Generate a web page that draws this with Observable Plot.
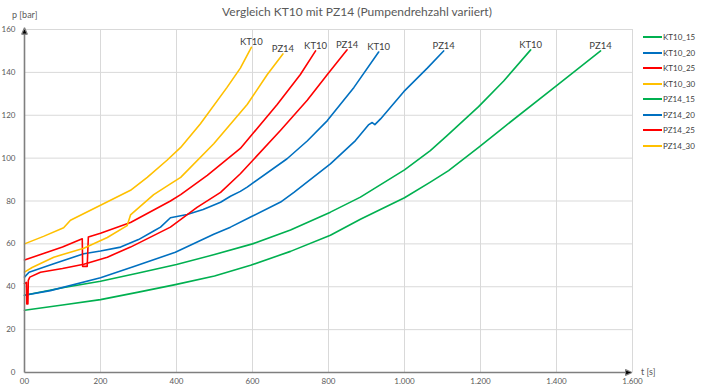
<!DOCTYPE html>
<html><head><meta charset="utf-8">
<script src="https://cdn.jsdelivr.net/npm/d3@7"></script>
<script src="https://cdn.jsdelivr.net/npm/@observablehq/plot@0.6"></script>
<style>
body{margin:0;background:#fff;}
#wrap{position:relative;width:714px;height:391px;font-family:Lato,"Open Sans",sans-serif;overflow:hidden;}
#wrap svg{position:absolute;left:0;top:0;}
#title{position:absolute;left:0;width:714px;top:4px;text-align:center;font-size:12px;color:#595959;white-space:nowrap;}
.lab{position:absolute;font-size:9px;color:#595959;white-space:nowrap;}
#legend{position:absolute;left:643px;top:29.5px;font-size:8px;color:#404040;}
.item{display:flex;align-items:center;height:15.5px;}
.sw{width:19px;height:2px;margin-right:1px;}
</style></head><body>
<div id="wrap">
<div id="title">Vergleich KT10 mit PZ14 (Pumpendrehzahl variiert)</div>
<div class="lab" style="left:12px;top:9px">p [bar]</div>
<div class="lab" style="left:641px;top:366px">t [s]</div>
<div id="legend"></div>
</div>
<script>
const seriesNames = ["KT10_15","KT10_20","KT10_25","KT10_30","PZ14_15","PZ14_20","PZ14_25","PZ14_30"];
const xTicks = [0,200,400,600,800,1000,1200,1400,1600];
const xTickLabels = ["00","200","400","600","800","1.000","1.200","1.400","1.600"];
const yTicks = [0,20,40,60,80,100,120,140,160];

const KT10_15 = [[0,36],[100,39.5],[200,42.6],[300,46.4],[400,50.4],[500,55],[600,60],[700,66.5],[805,74.8],[884,81.8],[1000,94.5],[1068,103.5],[1112,110.5],[1195,124],[1261,136],[1332,150.5]];
const KT10_20 = [[0,44.5],[12,46.8],[77,50.7],[156,55.4],[200,56.7],[253,58.5],[300,62],[340,66],[358,67.8],[384,72.2],[428,73.7],[470,76],[516,79.4],[542,82.2],[568,84.5],[586,86.5],[691,99.7],[744,108],[797,117.5],[867,133],[932,149.5]];
const KT10_25 = [[0,52.5],[50,55.5],[100,58.5],[152,62.4],[153,49.5],[165,49.5],[168,63.2],[200,65],[279,70],[384,80],[411,83],[481,92],[568,104.5],[665,125],[726,139],[766,150]];
const KT10_30 = [[0,60],[50,63.5],[103,67.5],[121,71],[200,78],[279,85],[323,91],[375,99],[411,105],[463,116],[533,133],[568,142],[597,151.7]];
const PZ14_15 = [[0,29],[100,31.5],[200,34],[300,37.5],[397,41],[500,45],[595,50],[700,56.5],[805,64],[884,71.5],[1000,81.5],[1068,88.8],[1116,94.2],[1195,105],[1261,114.4],[1402,134],[1516,150]];
const PZ14_20 = [[0,36],[68,38.2],[200,44.2],[288,49.4],[397,56.1],[498,64.5],[542,67.8],[595,72.5],[674,79.5],[709,84],[805,97.3],[871,108.2],[905,115.5],[915,116.6],[922,115.6],[937,118.3],[998,131],[1060,142],[1103,150]];
const PZ14_25 = [[0,41.5],[5,42],[6,32],[9,32],[10,43],[14,44.5],[42,46.8],[100,48.5],[156,50.5],[218,53.8],[279,58.5],[384,67.8],[454,77],[516,84],[568,92.7],[674,113],[744,127],[797,139],[849,150.5]];
const PZ14_30 = [[0,46.8],[20,49],[77,53.8],[156,58],[218,63],[270,68.5],[279,73.5],[340,83],[384,88],[411,91],[498,106.7],[586,125],[639,139],[680,148.6]];

const seriesData = [KT10_15,KT10_20,KT10_25,KT10_30,PZ14_15,PZ14_20,PZ14_25,PZ14_30];
const palette = ["#00B050","#0070C0","#FF0000","#FFC000","#00B050","#0070C0","#FF0000","#FFC000"];

const rows = [];
seriesData.forEach((arr,i)=>arr.forEach(([t,p])=>rows.push({series:seriesNames[i],t,p})));
const ends = seriesData.map((arr,i)=>({series:seriesNames[i],label:seriesNames[i].split("_")[0],t:arr[arr.length-1][0],p:arr[arr.length-1][1]}));

function filledArrow(){
  const ns="http://www.w3.org/2000/svg";
  const m=document.createElementNS(ns,"marker");
  m.setAttribute("viewBox","-5 -5 10 10");
  m.setAttribute("markerWidth","8");m.setAttribute("markerHeight","8");
  m.setAttribute("markerUnits","userSpaceOnUse");
  m.setAttribute("orient","auto");
  m.setAttribute("refX","0");m.setAttribute("refY","0");
  const p=document.createElementNS(ns,"path");
  p.setAttribute("d","M-4,-3.5L4,0L-4,3.5Z");p.setAttribute("fill","#000");
  m.appendChild(p);return m;
}

const chart = Plot.plot({
  width:714,height:391,
  marginLeft:24,marginRight:82,marginTop:29,marginBottom:19,
  x:{domain:[0,1600],label:null},
  y:{domain:[0,160],label:null},
  color:{domain:seriesNames,range:palette},
  style:{fontFamily:"Lato, 'Open Sans', sans-serif",fontSize:"8px",color:"#595959",background:"transparent",overflow:"visible"},
  marks:[
    Plot.gridX(xTicks.slice(1),{stroke:"#d9d9d9",strokeOpacity:1,strokeWidth:1}),
    Plot.gridY(yTicks.slice(1),{stroke:"#d9d9d9",strokeOpacity:1,strokeWidth:1}),
    Plot.axisX(xTicks,{label:null,tickSize:0,tickPadding:6,tickFormat:d=>xTickLabels[xTicks.indexOf(d)],fill:"#595959"}),
    Plot.axisY(yTicks,{label:null,tickSize:0,tickPadding:9,fill:"#595959"}),
    Plot.line(rows,{x:"t",y:"p",z:"series",stroke:"series",strokeWidth:1.6,curve:"linear"}),
    Plot.text(ends,{x:"t",y:"p",text:"label",lineAnchor:"bottom",dy:-2,fontSize:9.5,fill:"#404040"}),
    Plot.link([0],{x1:0,y1:0,x2:0,y2:159.3,stroke:"#7f7f7f",strokeWidth:1.6,markerEnd:filledArrow}),
    Plot.link([0],{x1:0,y1:0,x2:1590,y2:0,stroke:"#7f7f7f",strokeWidth:1.6,markerEnd:filledArrow})
  ]
});
document.getElementById("wrap").insertBefore(chart,document.getElementById("title"));

const legend=document.getElementById("legend");
seriesNames.forEach((n,i)=>{
  const it=document.createElement("div");it.className="item";
  const sw=document.createElement("span");sw.className="sw";sw.style.background=palette[i];
  const tx=document.createElement("span");tx.textContent=n;
  it.appendChild(sw);it.appendChild(tx);legend.appendChild(it);
});
</script>
</body></html>
